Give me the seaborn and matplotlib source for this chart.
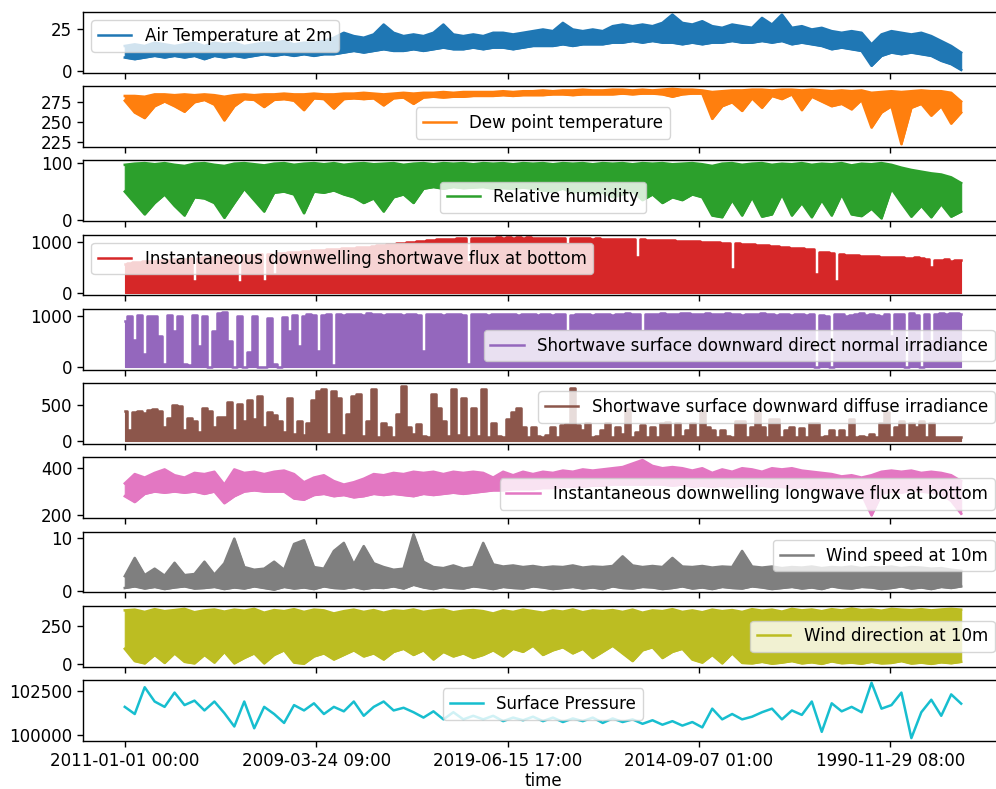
import numpy as np
import matplotlib
matplotlib.use("Agg")
import matplotlib.pyplot as plt
import seaborn as sns

# Hourly record, summarised as the low / high value inside each time bin
n_hours = 4370
tick_step = 1000
tick_labels = ["2011-01-01 00:00", "2009-03-24 09:00", "2019-06-15 17:00",
               "2014-09-07 01:00", "1990-11-29 08:00"]

air_temp_min = [8, 7, 8, 9, 8, 9, 8, 9, 7, 9, 8, 9, 8, 9, 10, 9, 10, 9, 10, 9,
                10, 10, 11, 12, 11, 12, 13, 12, 12, 13, 12, 13, 14, 13, 13, 14, 13, 14, 14, 13,
                14, 15, 15, 15, 16, 15, 16, 16, 16, 17, 17, 18, 17, 18, 17, 17, 16, 17, 16, 17,
                17, 18, 17, 17, 18, 17, 18, 16, 17, 16, 15, 13, 14, 13, 12, 3, 9, 11, 10, 11,
                10, 9, 6, 4, 0.5]
air_temp_max = [15, 16, 15, 17, 16, 15, 16, 17, 15, 17, 16, 17, 15, 16, 17, 17, 18, 16, 17, 17,
                18, 20, 23, 21, 20, 22, 28, 23, 21, 22, 21, 23, 28, 22, 21, 22, 21, 23, 23, 22,
                23, 24, 25, 24, 29, 25, 24, 25, 24, 27, 28, 27, 28, 27, 29, 34, 29, 28, 30, 27,
                26, 28, 27, 26, 32, 28, 34, 26, 27, 25, 26, 24, 23, 24, 23, 16, 22, 24, 23, 22,
                23, 21, 18, 15, 11]

dew_point_min = [277, 262, 255, 270, 276, 270, 263, 275, 278, 272, 252, 270, 279, 278, 269, 278, 279, 277, 265, 280,
                 279, 267, 279, 280, 279, 280, 271, 280, 281, 273, 281, 282, 281, 282, 282, 283, 283, 283, 284, 283,
                 284, 284, 284, 285, 285, 284, 285, 285, 285, 285, 286, 285, 286, 286, 285, 282, 285, 286, 286, 254,
                 270, 275, 264, 280, 268, 283, 279, 285, 265, 282, 276, 270, 273, 266, 278, 243, 262, 270, 222, 268,
                 273, 258, 270, 248, 262]
dew_point_max = [283, 283, 282, 285, 285, 284, 285, 284, 285, 284, 282, 284, 285, 284, 285, 285, 286, 285, 285, 286,
                 285, 285, 286, 286, 287, 286, 285, 286, 287, 286, 287, 287, 288, 287, 288, 288, 288, 288, 289, 288,
                 289, 289, 290, 289, 290, 290, 291, 290, 290, 291, 291, 290, 291, 290, 291, 292, 291, 291, 290, 288,
                 289, 290, 290, 291, 291, 290, 291, 291, 290, 291, 290, 289, 290, 289, 290, 287, 288, 289, 288, 289,
                 290, 289, 289, 287, 276]

humidity_min = [50, 30, 10, 30, 45, 25, 8, 40, 38, 30, 4, 30, 55, 35, 15, 48, 50, 45, 12, 50,
                48, 52, 45, 40, 30, 38, 15, 40, 45, 30, 55, 58, 55, 58, 56, 57, 58, 55, 56, 55,
                57, 55, 52, 50, 55, 48, 52, 45, 48, 40, 45, 50, 35, 45, 30, 40, 35, 45, 40, 8,
                5, 35, 8, 40, 6, 10, 45, 8, 30, 5, 35, 8, 45, 10, 7, 20, 3, 55, 30, 6,
                25, 5, 28, 6, 15]
humidity_max = [97, 99, 100, 98, 100, 97, 95, 99, 100, 97, 95, 99, 100, 98, 96, 99, 100, 97, 99, 100,
                98, 100, 97, 99, 100, 98, 99, 100, 97, 99, 100, 98, 100, 99, 100, 98, 100, 99, 100, 98,
                100, 99, 100, 98, 100, 99, 100, 98, 100, 99, 100, 98, 100, 99, 100, 98, 99, 100, 98, 95,
                99, 100, 97, 99, 100, 97, 99, 98, 100, 97, 99, 98, 100, 96, 99, 98, 100, 97, 92, 88,
                85, 82, 80, 75, 65]

shortwave_max = [560, 590, 600, 610, 620, 625, 630, 640, 645, 650,
                 655, 660, 665, 670, 230, 680, 690, 695, 700, 705,
                 710, 715, 720, 200, 730, 740, 745, 750, 220, 760,
                 360, 770, 780, 790, 800, 805, 810, 820, 830, 835,
                 840, 850, 855, 860, 870, 875, 880, 890, 900, 905,
                 915, 925, 935, 945, 955, 965, 975, 985, 995, 1005,
                 1015, 1025, 1035, 1045, 1050, 1055, 1060, 1065, 1070, 600,
                 1070, 1075, 1075, 1080, 1080, 1085, 1080, 1085, 1080, 1085,
                 1080, 1085, 1080, 1080, 1075, 1080, 1075, 1070, 1075, 950,
                 1070, 1065, 1070, 1065, 1060, 1065, 1060, 1055, 1060, 1050,
                 1055, 1050, 1045, 690, 1045, 1040, 1040, 1035, 1030, 1030,
                 1025, 1020, 1020, 1015, 1010, 1005, 1000, 995, 990, 985,
                 980, 975, 460, 965, 960, 950, 945, 940, 930, 925,
                 915, 910, 900, 895, 885, 880, 870, 860, 850, 360,
                 800, 790, 780, 230, 750, 740, 735, 730, 725, 720,
                 715, 710, 700, 705, 695, 690, 700, 685, 680, 690,
                 670, 660, 500, 650, 640, 660, 630, 650, 640]

direct_normal_max = [900, 1000, 520, 1010, 260, 1000, 990, 600, 50, 1010,
                     700, 1000, 60, 30, 1010, 400, 1000, 0, 700, 1060,
                     1080, 500, 0, 1000, 0, 300, 1000, 0, 0, 950,
                     50, 0, 980, 700, 1020, 400, 1000, 1030, 1010, 320,
                     1020, 1040, 30, 1030, 1020, 1040, 1030, 1040, 1020, 1050,
                     1030, 1040, 1020, 1030, 1040, 1030, 1020, 1040, 1030, 1020,
                     320, 1030, 1040, 1030, 1020, 1030, 1040, 1030, 1020, 50,
                     1030, 1040, 1030, 1020, 1030, 1040, 1030, 1040, 1030, 1020,
                     1030, 1040, 1030, 1020, 1040, 1030, 1020, 1030, 1040, 700,
                     1020, 1030, 1040, 1030, 1020, 1030, 1040, 1030, 1020, 1030,
                     1040, 1050, 1040, 1030, 700, 1040, 1030, 1040, 1050, 1040,
                     1030, 1040, 1050, 1060, 1040, 1030, 1040, 1050, 1040, 1030,
                     1040, 1050, 1040, 1030, 1020, 1040, 1030, 1040, 1050, 1040,
                     1030, 1020, 1040, 1030, 1020, 1030, 1040, 1020, 1030, 0,
                     1020, 1000, 0, 1030, 1040, 1000, 1020, 1040, 1050, 1010,
                     1030, 1020, 1000, 1040, 600, 1030, 1040, 0, 1050, 1020,
                     0, 1040, 500, 1030, 1050, 1040, 1060, 1050, 1040]

diffuse_max = [412, 150, 400, 412, 390, 430, 450, 410, 200, 320,
               500, 480, 150, 320, 280, 120, 455, 410, 200, 330,
               330, 544, 150, 520, 280, 566, 300, 630, 200, 400,
               360, 280, 120, 590, 100, 280, 80, 255, 566, 700,
               720, 100, 700, 590, 80, 370, 630, 655, 70, 280,
               720, 60, 255, 190, 60, 370, 765, 200, 100, 235,
               70, 60, 655, 455, 280, 70, 720, 80, 590, 60,
               455, 70, 720, 60, 250, 70, 60, 300, 400, 455,
               200, 60, 200, 70, 60, 80, 200, 60, 230, 240,
               730, 230, 150, 250, 60, 70, 150, 250, 60, 200,
               100, 450, 60, 120, 230, 60, 200, 60, 250, 260,
               60, 250, 70, 150, 250, 60, 420, 200, 150, 60,
               150, 70, 60, 280, 280, 60, 200, 450, 200, 60,
               300, 300, 60, 150, 200, 60, 180, 60, 250, 250,
               60, 70, 150, 60, 150, 60, 300, 60, 70, 60,
               100, 60, 250, 400, 60, 200, 280, 60, 250, 200,
               280, 60, 250, 60, 60, 60, 60, 60, 60]

longwave_min = [280, 255, 290, 300, 295, 300, 295, 300, 290, 300, 250, 280, 300, 305, 300, 300, 300, 270, 265, 285,
                290, 280, 285, 275, 280, 290, 285, 290, 285, 280, 290, 285, 290, 295, 290, 295, 300, 305, 305, 310,
                310, 310, 315, 315, 320, 320, 320, 325, 325, 330, 330, 330, 330, 330, 330, 325, 330, 320, 325, 320,
                325, 320, 325, 320, 325, 320, 320, 315, 320, 310, 315, 305, 310, 300, 290, 198, 290, 300, 295, 305,
                300, 295, 290, 260, 205]
longwave_max = [335, 375, 360, 380, 395, 370, 360, 380, 375, 385, 330, 395, 380, 385, 375, 385, 390, 375, 340, 360,
                370, 345, 330, 340, 355, 375, 370, 380, 375, 385, 380, 385, 375, 385, 380, 385, 380, 360, 385, 370,
                385, 375, 385, 380, 390, 385, 395, 390, 395, 400, 405, 420, 435, 410, 400, 405, 400, 390, 400, 380,
                395, 385, 400, 395, 385, 400, 395, 400, 390, 385, 380, 375, 365, 370, 360, 370, 385, 390, 385, 390,
                380, 385, 380, 370, 345]

wind_speed_min = [0.6, 0.9, 0.5, 0.8, 0.4, 0.7, 0.9, 0.5, 0.6, 0.8, 0.4, 0.7, 0.5, 0.9, 0.6, 0.3, 0.8, 0.5, 0.7, 0.4,
                  0.9, 0.6, 0.5, 0.8, 0.4, 0.7, 0.6, 0.9, 0.5, 1.2, 0.7, 0.4, 0.8, 0.6, 0.5, 0.9, 0.7, 0.4, 0.8, 0.6,
                  0.5, 0.9, 0.7, 0.4, 0.6, 0.8, 0.5, 0.7, 0.4, 0.9, 0.6, 0.5, 0.8, 0.7, 0.4, 0.6, 0.9, 0.5, 0.7, 0.4,
                  0.8, 0.6, 0.5, 0.9, 0.7, 0.4, 0.6, 0.8, 0.5, 0.7, 0.4, 0.9, 0.6, 0.5, 0.8, 0.7, 0.4, 0.6, 0.9, 0.5,
                  0.7, 0.4, 0.8, 0.6, 0.9]
wind_speed_max = [2.8, 6.2, 3.0, 4.2, 2.9, 5.3, 3.0, 3.2, 5.5, 3.1, 5.2,
                  9.8, 4.5, 4.0, 4.2, 5.5, 4.0, 8.8, 9.5, 4.5,
                  4.2, 7.5, 9.0, 5.0, 8.4, 5.2, 4.5, 4.0, 4.2, 10.6,
                  5.5, 4.5, 4.3, 4.8, 4.2, 4.5,
                  9.0, 5.0, 4.6, 4.8, 4.5, 4.7, 4.4, 4.6, 4.5, 4.8,
                  4.4, 4.6, 4.5, 4.7, 6.5, 4.8, 4.5, 4.7, 4.5, 6.2,
                  4.6, 4.5, 4.7, 4.4, 4.6, 4.5, 7.5, 4.6, 4.4, 4.6,
                  4.3, 4.5, 4.4, 4.6, 4.3, 4.5, 4.4, 4.6, 4.3, 4.5,
                  4.4, 4.6, 4.3, 4.5, 4.4, 4.2, 4.3, 4.0, 3.8]

wind_dir_min = [100, 20, 5, 60, 8, 70, 15, 5, 60, 10, 80, 5, 40, 70, 5, 60, 90, 10, 3, 50,
                70, 30, 60, 90, 50, 70, 30, 80, 100, 60, 90, 30, 80, 50, 70, 40, 60, 90, 50, 100,
                80, 120, 60, 90, 110, 70, 100, 40, 80, 120, 70, 20, 90, 110, 40, 80, 100, 30, 10, 60,
                5, 70, 8, 5, 15, 3, 10, 20, 5, 12, 2, 18, 6, 10, 3, 15, 5, 8, 20, 4,
                10, 2, 12, 6, 15]
wind_dir_max = [350, 355, 340, 358, 345, 352, 360, 338, 350, 356, 342, 355, 348, 360, 335, 352, 345, 358, 340, 355,
                350, 330, 345, 355, 340, 352, 335, 350, 345, 356, 340, 350, 355, 338, 348, 352, 345, 330, 350, 340,
                355, 345, 335, 350, 342, 356, 338, 350, 345, 352, 340, 355, 335, 350, 345, 358, 340, 350, 338, 355,
                345, 352, 340, 358, 348, 355, 342, 360, 350, 356, 345, 358, 350, 362, 352, 356, 348, 360, 355, 352,
                358, 350, 356, 360, 355]

pressure = [101600, 101200, 102700, 101900, 101600, 102400, 101700, 101950, 101400, 101900,
            101250, 100500, 101900, 100400, 101600, 101200, 100700, 101700, 101400, 101800,
            101200, 101600, 101350, 101900, 101100, 101600, 101900, 101400, 101550, 101300,
            101000, 101350, 100900, 101300, 100900, 101100, 100900, 101100, 100800, 101000,
            100850, 101050, 100800, 101000, 100750, 100950, 100800, 101000, 100700, 100950,
            100750, 100900, 100650, 100850, 100600, 100800, 100550, 100750, 100450, 101500,
            100900, 101200, 100900, 101050, 101300, 101500, 100900, 101400, 101150, 101900,
            100200, 101800, 101350, 101600, 101300, 102950, 101500, 101700, 102400, 99850,
            101300, 102000, 101100, 102300, 101780]

series_names = ["Air Temperature at 2m", "Dew point temperature", "Relative humidity",
                "Instantaneous downwelling shortwave flux at bottom",
                "Shortwave surface downward direct normal irradiance",
                "Shortwave surface downward diffuse irradiance",
                "Instantaneous downwelling longwave flux at bottom",
                "Wind speed at 10m", "Wind direction at 10m", "Surface Pressure"]
y_ticks = [[0, 25], [225, 250, 275], [0, 100], [0, 1000], [0, 1000], [0, 500],
           [200, 400], [0, 10], [0, 250], [100000, 102500]]

plt.rcParams.update({
    "font.family": ["DejaVu Sans"],
    "font.size": 12,
    "axes.linewidth": 1.0,
    "xtick.major.width": 1.0,
    "ytick.major.width": 1.0,
    "xtick.major.size": 4.2,
    "ytick.major.size": 4.2,
    "legend.fontsize": 12,
})
colors = sns.color_palette("tab10", 10)
LINE_W = 1.8


def band(ax, lo, hi, color, label):
    """Draw each bin's low..high range as a band outlined by lines."""
    x = np.linspace(0, n_hours, len(hi))
    ax.fill_between(x, lo, hi, color=color, linewidth=0.8)
    sns.lineplot(x=x, y=hi, ax=ax, color=color, linewidth=LINE_W,
                 estimator=None, sort=False, label=label)
    sns.lineplot(x=x, y=lo, ax=ax, color=color, linewidth=LINE_W,
                 estimator=None, sort=False)


def floor_band(ax, hi, color, label):
    """Series whose bins all reach zero (night-time irradiance)."""
    x = np.linspace(0, n_hours, len(hi))
    ax.fill_between(x, 0, hi, step="mid", color=color, linewidth=0.8)
    sns.lineplot(x=x, y=hi, ax=ax, color=color, linewidth=LINE_W,
                 estimator=None, sort=False, drawstyle="steps-mid", label=label)


def single(ax, y, color, label):
    x = np.linspace(0, n_hours, len(y))
    sns.lineplot(x=x, y=y, ax=ax, color=color, linewidth=LINE_W,
                 estimator=None, sort=False, label=label)


fig, axes = plt.subplots(10, 1, sharex=True, figsize=(9.96, 7.89), dpi=100)
fig.subplots_adjust(left=0.0833, right=1.007, top=0.985, bottom=0.061, hspace=0.22)

band(axes[0], air_temp_min, air_temp_max, colors[0], series_names[0])
band(axes[1], dew_point_min, dew_point_max, colors[1], series_names[1])
band(axes[2], humidity_min, humidity_max, colors[2], series_names[2])
floor_band(axes[3], shortwave_max, colors[3], series_names[3])
floor_band(axes[4], direct_normal_max, colors[4], series_names[4])
floor_band(axes[5], diffuse_max, colors[5], series_names[5])
band(axes[6], longwave_min, longwave_max, colors[6], series_names[6])
band(axes[7], wind_speed_min, wind_speed_max, colors[7], series_names[7])
band(axes[8], wind_dir_min, wind_dir_max, colors[8], series_names[8])
single(axes[9], pressure, colors[9], series_names[9])

legend_locs = ["upper left", "lower center", "lower center", "upper left", "lower right",
               "upper right", "lower right", "upper right", "center right", "upper center"]

for ax, ticks, loc in zip(axes, y_ticks, legend_locs):
    ax.set_yticks(ticks)
    ax.ticklabel_format(axis="y", useOffset=False, style="plain")
    ax.set_ylabel("")
    ax.legend(loc=loc)

axes[-1].set_xticks(np.arange(len(tick_labels)) * tick_step, tick_labels)
axes[-1].set_xlabel("time", labelpad=1.5)

fig.savefig("out.png", dpi=100)
